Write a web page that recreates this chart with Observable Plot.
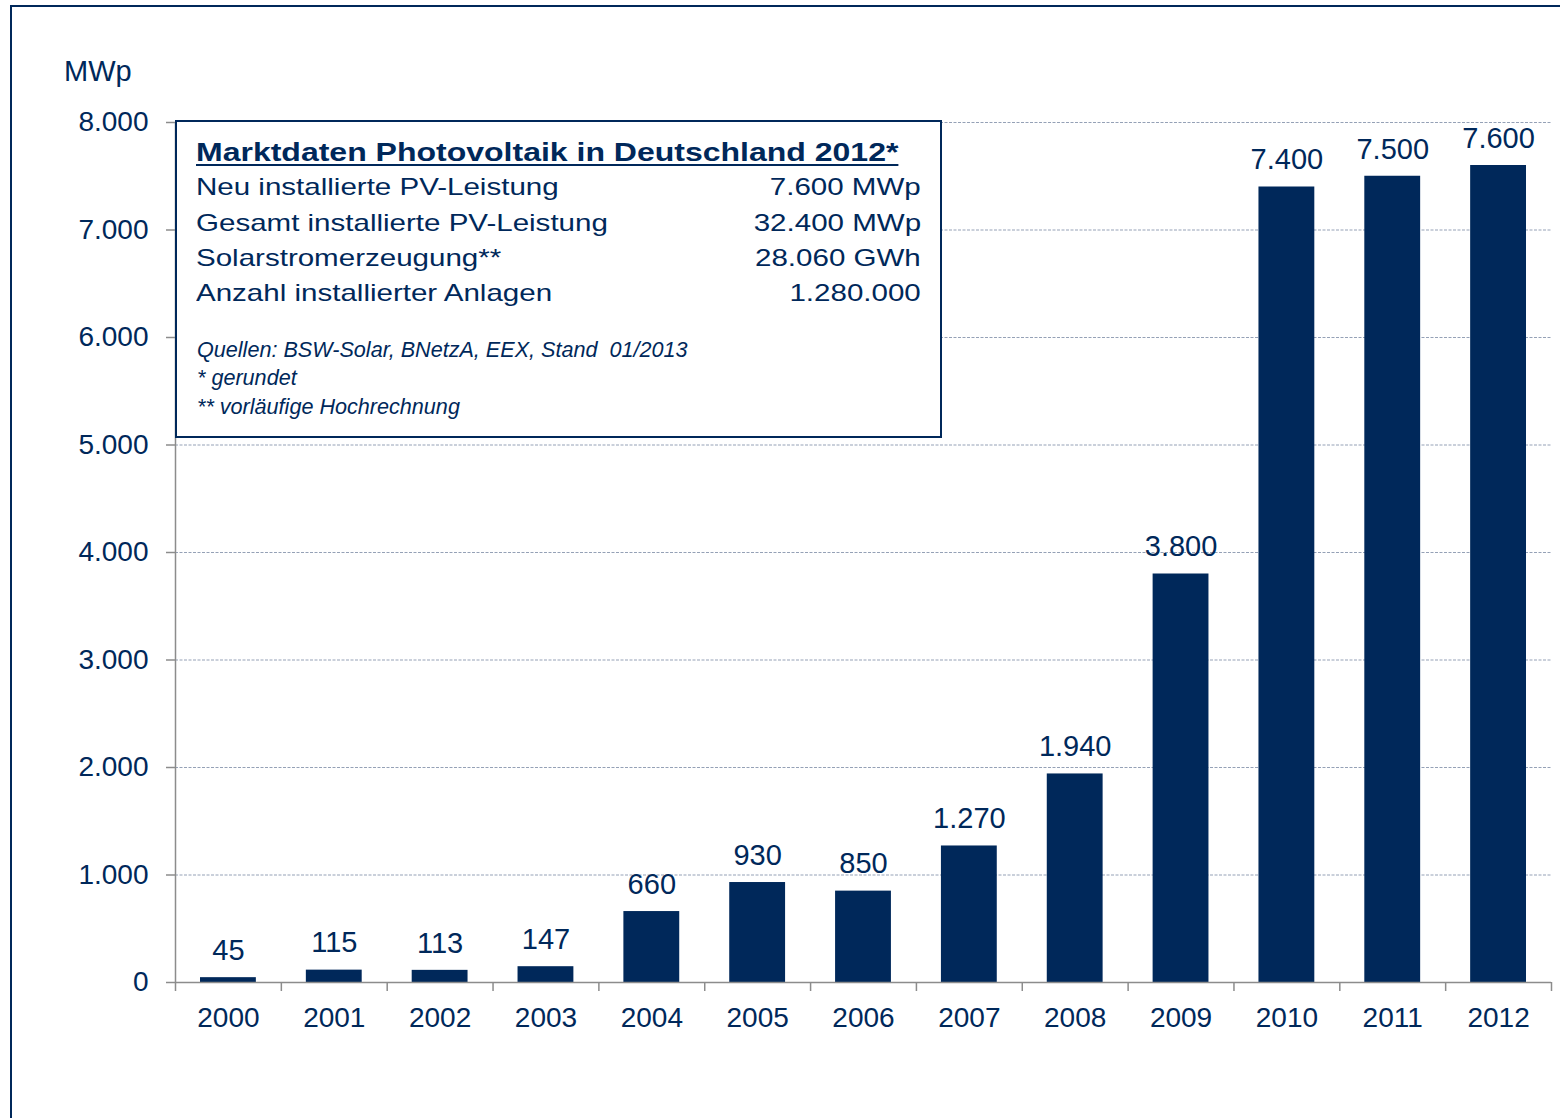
<!DOCTYPE html>
<html>
<head>
<meta charset="utf-8">
<script src="https://cdn.jsdelivr.net/npm/d3@7"></script>
<script src="https://cdn.jsdelivr.net/npm/@observablehq/plot@0.6"></script>
<style>
  html, body { margin: 0; padding: 0; background: #fff; }
  #wrap { position: relative; width: 1560px; height: 1118px; overflow: hidden; background: #fff;
    font-family: "Liberation Sans", Arial, sans-serif; color: #00285a; }
  #chart { position: absolute; left: 0; top: 0; }
  #frame { position: absolute; left: 10px; top: 5px; width: 1600px; height: 1200px;
    border-left: 2.5px solid #00285a; border-top: 2.5px solid #00285a; box-sizing: border-box; }
  .abs { position: absolute; white-space: pre; }
  #unit { left: 64px; top: 56px; font-size: 29px; line-height: 30px; }
  #box { position: absolute; left: 175px; top: 120px; width: 767px; height: 318px;
    border: 2.5px solid #00285a; background: #fff; box-sizing: border-box; }
  .title { font-weight: bold; font-size: 25px; line-height: 30px; text-decoration: underline;
    text-decoration-thickness: 2px; text-underline-offset: 3px; transform-origin: left center; transform: scaleX(1.28); }
  .rowL { font-size: 24px; line-height: 30px; transform-origin: left center; transform: scaleX(1.23); }
  .rowR { font-size: 24px; line-height: 30px; transform-origin: right center; transform: scaleX(1.23); text-align: right; }
  .note { font-size: 21.6px; line-height: 26px; font-style: italic; }
</style>
</head>
<body>
<div id="wrap">
  <div id="chart"></div>
  <div id="frame"></div>
  <div id="unit" class="abs"></div>
  <div id="box"></div>
</div>
<script>
// ---- data ----
const years = ["2000","2001","2002","2003","2004","2005","2006","2007","2008","2009","2010","2011","2012"];
const values = [45, 115, 113, 147, 660, 930, 850, 1270, 1940, 3800, 7400, 7500, 7600];
const yTicks = [0, 1000, 2000, 3000, 4000, 5000, 6000, 7000, 8000];
const unitLabel = "MWp";
const boxTitle = "Marktdaten Photovoltaik in Deutschland 2012*";
const boxLabels = ["Neu installierte PV-Leistung", "Gesamt installierte PV-Leistung", "Solarstromerzeugung**", "Anzahl installierter Anlagen"];
const boxValues = ["7.600 MWp", "32.400 MWp", "28.060 GWh", "1.280.000"];
const boxNotes = ["Quellen: BSW-Solar, BNetzA, EEX, Stand  01/2013", "* gerundet", "** vorläufige Hochrechnung"];

const data = years.map((year, i) => ({year, value: values[i]}));

const de = d3.formatLocale({decimal: ",", thousands: ".", grouping: [3], currency: ["", " €"]});
const fmt = de.format(",d");

const navy = "#00285a";
const axisGray = "#8c8c8c";
const W = 1560, H = 1118;
const mL = 175, mR = 9, mT = 122, mB = 136;
const bw = (W - mL - mR) / years.length;
const plotH = H - mT - mB;

const chart = Plot.plot({
  width: W, height: H,
  marginLeft: mL, marginRight: mR, marginTop: mT, marginBottom: mB,
  style: {fontFamily: "'Liberation Sans', Arial, sans-serif", background: "transparent", overflow: "visible", color: navy},
  x: {domain: years, padding: 0, round: false, label: null},
  y: {domain: [0, 8000], label: null},
  marks: [
    Plot.ruleY(yTicks.filter(t => t > 0), {stroke: "#95a1b6", strokeWidth: 1, strokeDasharray: "3,1.5"}),
    Plot.barY(data, {x: "year", y: "value", fill: navy, insetLeft: 25, insetRight: 25}),
    Plot.ruleY([0], {stroke: axisGray, strokeWidth: 1.5}),
    Plot.ruleX([years[0]], {dx: -bw / 2, stroke: axisGray, strokeWidth: 1.5, insetBottom: -9}),
    Plot.ruleX(years.slice(1), {dx: -bw / 2, stroke: axisGray, strokeWidth: 1.5, insetTop: plotH, insetBottom: -9}),
    Plot.ruleX(years.slice(-1), {dx: bw / 2, stroke: axisGray, strokeWidth: 1.5, insetTop: plotH, insetBottom: -9}),
    Plot.axisY(yTicks, {tickSize: 9, tickPadding: 18, tickFormat: fmt, stroke: axisGray, strokeWidth: 1.5, fill: navy, fontSize: 28, label: null}),
    Plot.axisX({tickSize: 0, tickPadding: 25, fill: navy, fontSize: 28, label: null}),
    Plot.text(data, {x: "year", y: "value", text: d => fmt(d.value), dy: -27, fontSize: 29, fill: navy})
  ]
});
document.getElementById("chart").appendChild(chart);

document.getElementById("unit").textContent = unitLabel;

// info box text (absolute positions on the page)
const wrap = document.getElementById("wrap");
function addText(cls, text, style) {
  const el = document.createElement("div");
  el.className = "abs " + cls;
  el.textContent = text;
  Object.assign(el.style, style);
  wrap.appendChild(el);
  return el;
}
addText("title", boxTitle, {left: "196px", top: "137px"});
const rowCenters = [187, 223, 258, 293];
boxLabels.forEach((t, i) => addText("rowL", t, {left: "196px", top: (rowCenters[i] - 15) + "px"}));
boxValues.forEach((t, i) => addText("rowR", t, {right: (1560 - 921) + "px", top: (rowCenters[i] - 15) + "px"}));
const noteCenters = [350, 378, 407];
boxNotes.forEach((t, i) => addText("note", t, {left: "197px", top: (noteCenters[i] - 13) + "px"}));
</script>
</body>
</html>
